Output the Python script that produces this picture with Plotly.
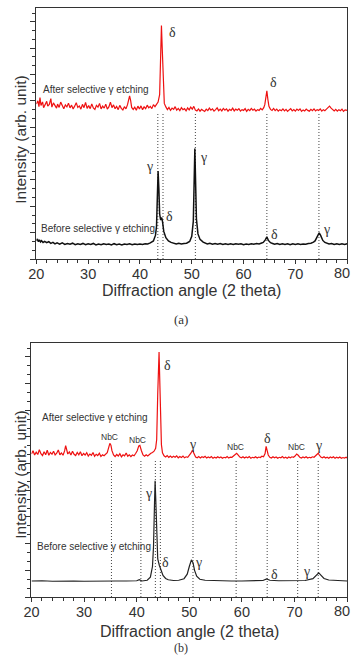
import plotly.graph_objects as go

# ---------------- data ----------------
RED_A = [(20.0,61.8),(20.3,63.0),(20.5,60.7),(20.7,64.3),(20.9,61.2),(21.2,62.6),(21.4,60.3),(21.7,61.9),(22.0,62.8),(22.2,60.9),(22.5,61.6),(22.8,63.9),(23.0,60.5),(23.3,62.2),(23.6,61.0),(23.9,60.1),(24.1,61.7),(24.4,60.4),(24.7,62.5),(25.0,60.8),(25.3,59.9),(25.6,61.4),(25.9,60.6),(26.2,62.1),(26.5,60.2),(26.8,61.3),(27.1,59.8),(27.4,60.9),(27.7,62.3),(28.0,60.4),(28.3,61.0),(28.6,59.7),(28.9,61.6),(29.2,60.3),(29.5,62.4),(29.8,60.0),(30.1,61.1),(30.4,59.9),(30.7,61.8),(31.0,60.2),(31.3,59.6),(31.6,61.2),(31.9,60.5),(32.2,62.0),(32.5,59.8),(32.8,60.9),(33.1,60.1),(33.4,61.7),(33.7,59.7),(34.0,60.6),(34.3,62.5),(34.6,60.3),(34.9,61.4),(35.2,59.9),(35.5,60.8),(35.8,59.5),(36.1,61.2),(36.4,60.0),(36.7,59.4),(37.0,60.7),(37.3,59.8),(37.6,61.5),(37.8,63.0),(38.0,65.0),(38.2,63.2),(38.4,60.4),(38.7,59.6),(39.0,60.5),(39.3,59.3),(39.6,60.9),(39.9,59.8),(40.2,61.0),(40.5,59.5),(40.8,60.6),(41.1,59.9),(41.4,61.3),(41.7,60.2),(42.0,60.8),(42.3,59.9),(42.6,61.5),(42.9,60.7),(43.2,61.8),(43.5,62.5),(43.8,65.5),(44.0,80.0),(44.15,93.0),(44.3,84.0),(44.5,68.0),(44.7,62.0),(45.0,60.6),(45.3,59.5),(45.6,60.4),(45.9,59.2),(46.2,60.1),(46.5,59.6),(46.8,60.7),(47.1,59.3),(47.4,60.0),(47.7,59.1),(48.0,60.3),(48.3,59.5),(48.6,59.9),(48.9,59.0),(49.2,60.2),(49.5,59.4),(49.8,60.5),(50.1,59.7),(50.4,60.8),(50.7,59.3),(51.0,59.0),(51.3,59.8),(51.6,58.9),(51.9,59.6),(52.2,59.2),(52.5,58.8),(52.8,59.7),(53.1,59.1),(53.4,60.1),(53.7,59.3),(54.0,59.8),(54.3,58.9),(54.6,59.5),(54.9,60.2),(55.2,59.1),(55.5,59.7),(55.8,59.0),(56.1,60.0),(56.4,59.3),(56.7,59.8),(57.0,58.9),(57.3,59.6),(57.6,59.2),(57.9,60.1),(58.2,59.0),(58.5,59.7),(58.8,59.3),(59.1,59.9),(59.4,58.9),(59.7,59.5),(60.0,59.2),(60.3,59.9),(60.6,58.8),(60.9,59.6),(61.2,59.1),(61.5,60.0),(61.8,59.3),(62.1,59.7),(62.4,58.9),(62.7,59.5),(63.0,59.2),(63.3,60.0),(63.6,59.4),(63.9,60.3),(64.1,61.5),(64.3,64.0),(64.5,67.0),(64.7,63.5),(64.9,60.8),(65.2,59.6),(65.5,59.2),(65.8,60.0),(66.1,59.1),(66.4,59.7),(66.7,58.9),(67.0,59.5),(67.3,59.1),(67.6,59.8),(67.9,59.0),(68.2,59.6),(68.5,58.8),(68.8,59.4),(69.1,59.9),(69.4,59.0),(69.7,59.5),(70.0,58.9),(70.3,59.7),(70.6,59.2),(70.9,59.8),(71.2,58.8),(71.5,59.4),(71.8,59.0),(72.1,59.7),(72.4,59.2),(72.7,58.9),(73.0,59.6),(73.3,59.1),(73.6,59.8),(73.9,59.0),(74.2,59.5),(74.5,59.2),(74.8,59.8),(75.1,58.9),(75.4,59.5),(75.7,59.1),(76.0,59.7),(76.3,60.3),(76.6,60.9),(76.9,60.1),(77.2,59.4),(77.5,59.0),(77.8,59.6),(78.1,58.9),(78.4,59.5),(78.7,59.1),(79.0,59.7),(79.3,58.8),(79.6,59.4),(80.0,59.2)]

BLACK_A = [(20.0,7.3),(20.2,8.0),(20.4,6.9),(20.6,7.6),(20.8,6.8),(21.0,7.3),(21.3,6.6),(21.6,7.0),(22.0,6.5),(22.4,6.9),(22.8,6.2),(23.2,6.6),(23.6,6.0),(24.0,6.4),(24.5,5.9),(25.0,6.4),(25.5,5.8),(26.0,6.2),(26.5,5.9),(27.0,6.3),(27.5,5.7),(28.0,6.1),(28.5,5.8),(29.0,6.2),(29.5,5.7),(30.0,6.1),(30.5,5.8),(31.0,6.2),(31.5,5.6),(32.0,6.0),(32.5,5.7),(33.0,6.1),(33.5,5.8),(34.0,6.0),(34.5,5.6),(35.0,6.1),(35.5,5.7),(36.0,6.0),(36.5,5.6),(37.0,6.0),(37.5,5.8),(38.0,6.1),(38.5,5.7),(39.0,6.0),(39.5,5.8),(40.0,6.0),(40.5,5.8),(41.0,6.1),(41.5,6.0),(42.0,6.4),(42.6,7.2),(43.0,9.5),(43.2,13.0),(43.4,28.0),(43.5,35.0),(43.65,28.0),(43.8,18.0),(44.0,15.5),(44.2,16.5),(44.35,15.0),(44.6,11.0),(45.0,8.5),(45.5,7.2),(46.0,6.6),(46.5,6.3),(47.0,6.0),(47.5,6.3),(48.0,6.0),(48.5,6.2),(49.0,6.3),(49.6,7.0),(50.0,9.0),(50.3,15.0),(50.5,35.0),(50.6,44.0),(50.75,30.0),(50.9,16.0),(51.2,10.0),(51.6,7.8),(52.2,6.7),(52.7,6.3),(53.0,6.0),(53.5,6.3),(54.0,5.9),(54.5,6.2),(55.0,5.9),(55.5,6.2),(56.0,5.8),(56.5,6.1),(57.0,5.8),(57.5,6.1),(58.0,5.8),(58.5,6.1),(59.0,5.9),(59.5,6.1),(60.0,5.7),(60.5,6.0),(61.0,5.8),(61.5,6.1),(62.0,5.9),(62.5,6.2),(63.0,6.0),(63.5,6.4),(63.8,6.6),(64.2,7.6),(64.5,8.8),(64.8,7.4),(65.2,6.5),(65.6,6.2),(66.0,5.9),(66.5,6.2),(67.0,5.8),(67.5,6.1),(68.0,5.8),(68.5,6.1),(69.0,5.7),(69.5,6.1),(70.0,5.8),(70.5,6.1),(71.0,5.8),(71.5,6.0),(72.0,5.9),(72.5,6.2),(73.0,6.3),(73.5,6.7),(73.8,7.2),(74.3,9.2),(74.6,10.4),(74.9,9.3),(75.3,7.4),(75.7,6.6),(76.0,6.3),(76.5,6.0),(77.0,6.2),(77.5,5.8),(78.0,6.1),(78.5,5.8),(79.0,6.1),(79.5,5.8),(80.0,6.1)]

RED_B = [(20.0,56.3),(20.3,57.6),(20.6,55.9),(20.9,57.0),(21.2,56.1),(21.5,58.0),(21.8,56.4),(22.1,55.7),(22.4,57.2),(22.7,56.0),(23.0,57.8),(23.3,55.8),(23.6,56.9),(23.9,56.2),(24.2,57.4),(24.5,55.9),(24.8,56.6),(25.1,57.9),(25.4,56.0),(25.7,56.7),(26.0,55.8),(26.3,57.5),(26.5,59.6),(26.7,58.2),(26.9,56.3),(27.2,57.1),(27.5,55.9),(27.8,57.4),(28.1,56.2),(28.4,55.7),(28.7,56.9),(29.0,56.0),(29.3,57.2),(29.6,55.6),(29.9,56.5),(30.2,55.9),(30.5,56.8),(30.8,55.5),(31.1,56.3),(31.4,55.8),(31.7,56.9),(32.0,55.4),(32.3,56.2),(32.6,55.7),(32.9,56.6),(33.2,55.3),(33.5,56.0),(33.8,55.6),(34.1,56.4),(34.4,56.8),(34.7,59.0),(34.9,60.5),(35.1,59.8),(35.3,57.6),(35.6,55.9),(35.9,55.3),(36.2,56.1),(36.5,55.5),(36.8,56.4),(37.1,55.2),(37.4,56.0),(37.7,55.6),(38.0,56.7),(38.3,55.4),(38.6,56.0),(38.9,55.3),(39.2,55.9),(39.5,55.6),(39.8,56.5),(40.1,57.6),(40.4,59.5),(40.6,59.7),(40.9,57.6),(41.2,55.9),(41.5,55.4),(41.8,56.0),(42.1,55.5),(42.4,56.2),(42.7,56.6),(43.0,56.9),(43.3,57.4),(43.6,58.5),(43.8,62.0),(44.0,80.0),(44.25,96.4),(44.45,80.0),(44.7,60.0),(44.9,56.8),(45.2,55.6),(45.5,55.1),(45.8,55.7),(46.1,55.0),(46.4,55.5),(46.7,54.9),(47.0,55.4),(47.3,55.0),(47.6,55.6),(47.9,54.8),(48.2,55.3),(48.5,54.9),(48.8,55.5),(49.1,54.8),(49.4,55.2),(49.7,55.0),(50.0,55.6),(50.3,56.6),(50.6,57.8),(50.9,56.2),(51.2,55.1),(51.5,54.8),(51.8,55.3),(52.1,54.7),(52.4,55.2),(52.7,54.9),(53.0,55.4),(53.3,54.7),(53.6,55.1),(53.9,54.8),(54.2,55.3),(54.5,54.6),(54.8,55.0),(55.1,54.7),(55.4,55.2),(55.7,54.8),(56.0,55.1),(56.3,54.6),(56.6,55.0),(56.9,54.8),(57.2,55.3),(57.5,54.7),(57.8,55.1),(58.1,55.0),(58.4,55.5),(58.7,56.2),(59.0,56.6),(59.3,55.9),(59.6,55.1),(59.9,54.8),(60.2,55.2),(60.5,54.7),(60.8,55.1),(61.1,54.8),(61.4,55.3),(61.7,54.6),(62.0,55.0),(62.3,54.8),(62.6,55.2),(62.9,54.7),(63.2,55.1),(63.5,54.9),(63.8,55.4),(64.1,55.2),(64.4,56.5),(64.6,59.3),(64.8,58.0),(65.0,55.9),(65.3,55.0),(65.6,54.7),(65.9,55.2),(66.2,54.8),(66.5,55.1),(66.8,54.6),(67.1,55.0),(67.4,54.8),(67.7,55.3),(68.0,54.7),(68.3,55.0),(68.6,54.6),(68.9,55.1),(69.2,54.8),(69.5,55.2),(69.8,55.0),(70.1,55.5),(70.4,56.3),(70.7,55.8),(71.0,55.0),(71.3,54.7),(71.6,55.1),(71.9,54.8),(72.2,55.2),(72.5,54.7),(72.8,55.0),(73.1,54.8),(73.4,55.2),(73.7,55.0),(74.0,55.5),(74.3,56.2),(74.5,56.6),(74.7,55.9),(75.0,55.1),(75.3,54.8),(75.6,55.2),(75.9,54.7),(76.2,55.0),(76.5,54.6),(76.8,55.1),(77.1,54.8),(77.4,55.2),(77.7,54.6),(78.0,55.0),(78.3,54.7),(78.6,55.1),(78.9,54.6),(79.2,54.9),(79.5,54.7),(79.8,55.0),(80.0,54.7)]

BLACK_B = [(20.0,6.3),(22.0,6.4),(24.0,6.2),(26.0,6.3),(28.0,6.3),(30.0,6.2),(32.0,6.3),(34.0,6.3),(35.0,6.4),(36.0,6.3),(38.0,6.3),(40.0,6.4),(40.5,6.8),(41.0,6.3),(42.0,6.6),(42.6,7.8),(43.0,12.0),(43.2,20.0),(43.4,38.0),(43.5,45.8),(43.6,40.0),(43.8,22.0),(44.0,15.0),(44.3,12.5),(44.6,10.5),(45.0,8.5),(45.5,7.3),(46.0,6.8),(47.0,6.5),(48.0,6.6),(49.0,7.2),(49.6,9.0),(50.0,12.0),(50.4,14.6),(50.7,13.5),(51.0,10.5),(51.4,8.2),(52.0,7.0),(53.0,6.6),(55.0,6.4),(58.0,6.3),(60.0,6.3),(62.0,6.3),(64.0,6.5),(64.7,7.1),(65.3,6.6),(67.0,6.4),(70.0,6.4),(72.0,6.5),(73.5,7.2),(74.2,8.6),(74.6,9.5),(75.0,8.6),(75.6,7.3),(76.5,6.7),(78.0,6.4),(80.0,6.3)]

# dotted reference lines (2 theta positions) and their top values
DOT_A = [43.45, 44.45, 50.7, 64.5, 74.55]
DOT_A_TOP = 58.5
DOT_B = [35.2, 40.8, 43.55, 44.5, 50.7, 58.9, 64.8, 70.6, 74.5]
DOT_B_TOP = 53.8

# peak labels: (x, y, text)
PEAK_LBL_A = [(46.2, 90.4, "δ"), (65.7, 70.5, "δ"), (41.9, 36.7, "γ"), (45.8, 17.0, "δ"),
              (52.3, 40.6, "γ"), (66.0, 9.6, "δ"), (76.0, 11.6, "γ")]
PEAK_LBL_B = [(45.8, 91.0, "δ"), (50.7, 60.0, "γ"), (64.8, 62.5, "δ"), (74.5, 59.7, "γ"),
              (42.3, 40.7, "γ"), (45.5, 13.4, "δ"), (51.8, 13.4, "γ"), (66.1, 8.7, "δ"),
              (72.2, 9.9, "γ")]
NBC_LBL_B = [(34.9, 62.8), (40.1, 62.0), (58.7, 59.0), (70.4, 59.0)]
SERIES_LBL_A = [(20.9, 67.7, "After selective γ etching"), (20.5, 12.0, "Before selective γ etching")]
SERIES_LBL_B = [(21.7, 70.8, "After selective γ etching"), (20.7, 19.8, "Before selective γ etching")]

X_TICKS = [20, 30, 40, 50, 60, 70, 80]
X_TICK_TEXT = ["20", "30", "40", "50", "60", "70", "80"]
X_TITLE = "Diffraction angle (2 theta)"
Y_TITLE = "Intensity (arb. unit)"

# ---------------- figure ----------------
W, H = 354, 655
SANS = "Liberation Sans, Arial, sans-serif"
SERIF = "Liberation Serif, Times New Roman, serif"
TXT = "#333333"

def xs(p): return [a for a, b in p]
def ys(p): return [b for a, b in p]

fig = go.Figure()
fig.add_trace(go.Scatter(x=xs(RED_A), y=ys(RED_A), mode="lines", line=dict(color="#ee1111", width=1.2), xaxis="x", yaxis="y"))
fig.add_trace(go.Scatter(x=xs(BLACK_A), y=ys(BLACK_A), mode="lines", line=dict(color="#111111", width=1.5), xaxis="x", yaxis="y"))
fig.add_trace(go.Scatter(x=xs(RED_B), y=ys(RED_B), mode="lines", line=dict(color="#ee1111", width=1.2), xaxis="x2", yaxis="y2"))
fig.add_trace(go.Scatter(x=xs(BLACK_B), y=ys(BLACK_B), mode="lines", line=dict(color="#222222", width=1.2), xaxis="x2", yaxis="y2"))

shapes = []
DOT_STYLE = dict(color="#444444", width=1, dash="1px,2px")
for xv in DOT_A:
    shapes.append(dict(type="line", xref="x", yref="y", x0=xv, x1=xv, y0=0, y1=DOT_A_TOP,
                       line=DOT_STYLE, layer="below"))
for xv in DOT_B:
    shapes.append(dict(type="line", xref="x2", yref="y2", x0=xv, x1=xv, y0=0, y1=DOT_B_TOP,
                       line=DOT_STYLE, layer="below"))

ann = []
def lbl(x, y, t, xr, yr, size, fam, anchor="center"):
    ann.append(dict(x=x, y=y, xref=xr, yref=yr, text=t, showarrow=False, xanchor=anchor, yanchor="middle",
                    font=dict(family=fam, size=size, color=TXT)))

for x, y, t in PEAK_LBL_A:
    lbl(x, y, t, "x", "y", 14, SERIF)
for x, y, t in PEAK_LBL_B:
    lbl(x, y, t, "x2", "y2", 14, SERIF)
for x, y in NBC_LBL_B:
    lbl(x, y, "NbC", "x2", "y2", 8.5, SANS)
for x, y, t in SERIES_LBL_A:
    lbl(x, y, t, "x", "y", 10, SANS, "left")
for x, y, t in SERIES_LBL_B:
    lbl(x, y, t, "x2", "y2", 10, SANS, "left")

# last tick label ("80") kept inside the page edge, right-aligned to its tick
for xr, yr in (("x", "y domain"), ("x2", "y2 domain")):
    ann.append(dict(x=X_TICKS[-1], y=0, xref=xr, yref=yr, text=X_TICK_TEXT[-1], showarrow=False,
                    xanchor="right", yanchor="top", xshift=5, yshift=-4,
                    font=dict(family=SANS, size=14.5, color=TXT)))

def paper(px, py, t, size, fam, angle=0):
    ann.append(dict(x=px / W, y=1 - py / H, xref="paper", yref="paper", text=t, showarrow=False,
                    xanchor="center", yanchor="middle", textangle=angle,
                    font=dict(family=fam, size=size, color=TXT)))

paper(188, 291, X_TITLE, 16, SANS)
paper(186, 631, X_TITLE, 16, SANS)
paper(12, 140, Y_TITLE, 15.5, SANS, -90)
paper(12, 475, Y_TITLE, 15.5, SANS, -90)
paper(177, 320, "(a)", 13, SERIF)
paper(177, 648, "(b)", 12, SERIF)

def xax(domain):
    return dict(domain=domain, range=[20, 80], tickmode="array", tickvals=X_TICKS,
                ticktext=X_TICK_TEXT[:-1] + [""],
                ticks="outside", ticklen=4, tickwidth=1, tickcolor="#333",
                minor=dict(dtick=2, tick0=20, ticks="outside", ticklen=3, tickcolor="#333"),
                showline=True, mirror=True, linecolor="#333", linewidth=1.2,
                showgrid=False, zeroline=False, ticklabelstandoff=-3,
                tickfont=dict(family=SANS, size=14.5, color=TXT), fixedrange=True)

def yax(domain, anchor):
    return dict(domain=domain, range=[0, 100], anchor=anchor, showticklabels=False,
                tick0=0, dtick=10.5, ticks="outside", ticklen=5, tickwidth=1, tickcolor="#333",
                minor=dict(dtick=3.5, tick0=0, ticks="outside", ticklen=3, tickcolor="#333"),
                showline=True, mirror=True, linecolor="#333", linewidth=1.2,
                showgrid=False, zeroline=False, fixedrange=True)

xa = xax([29 / W, 347 / W]); xa["anchor"] = "y"
xb = xax([24 / W, 347 / W]); xb["anchor"] = "y2"

fig.update_layout(
    width=W, height=H, margin=dict(l=0, r=0, t=0, b=0),
    paper_bgcolor="white", plot_bgcolor="white", showlegend=False,
    xaxis=xa, yaxis=yax([1 - 259 / H, 1 - 8 / H], "x"),
    xaxis2=xb, yaxis2=yax([1 - 597 / H, 1 - 343 / H], "x2"),
    shapes=shapes, annotations=ann,
)

fig.write_html("out.html", config={"displayModeBar": False})
